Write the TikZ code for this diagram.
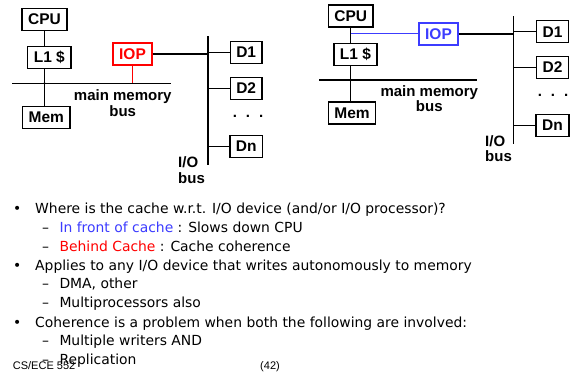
\documentclass[tikz,border=0pt]{standalone}
\usepackage{fontspec}
\setmainfont{Liberation Sans}
\newfontfamily\bodyfont{DejaVu Sans}
\usetikzlibrary{positioning,calc}
\definecolor{iopred}{HTML}{FF0000}
\definecolor{iopblue}{HTML}{3C3CFF}
\tikzset{
  unit/.style={draw,line width=1.4pt,inner xsep=6pt,inner ysep=0pt,minimum height=22pt,
    font=\fontsize{15.5}{15.5}\selectfont\bfseries},
  wire/.style={line width=1.4pt},
  buslabel/.style={align=center,inner sep=0pt,font=\fontsize{15}{15.5}\selectfont\bfseries},
  item/.style={anchor=base west,inner sep=0pt,font=\bodyfont\fontsize{13.9}{13.9}\selectfont},
  foot/.style={anchor=base west,inner sep=0pt,font=\fontsize{11}{11}\selectfont},
}

\begin{document}
\begin{tikzpicture}[x=1pt,y=-1pt]
\useasboundingbox (0,0) rectangle (573,375);
% left: IOP behind the cache
\node[unit] (cpuA) at (44.5,19.5) {CPU};
\node[unit] (l1A) at (49.3,57.7) {L1 \$};
\node[unit] (memA) at (46.3,117.2) {Mem};
\node[unit,draw=iopred,text=iopred] (iopA) at (132.5,53.8) {IOP};
\coordinate (mbusAl) at (12.3,83.3);
\coordinate (mbusAr) at (171,83.3);
\coordinate (iobusAt) at (208,36);
\coordinate (iobusAb) at (208,165);
\draw[wire] (mbusAl) -- (mbusAr);
\draw[wire] (iobusAt) -- (iobusAb);
\draw[wire] (cpuA.south) -- (cpuA.south |- l1A.north);
\draw[wire] (cpuA.south |- l1A.south) -- (cpuA.south |- memA.north);
\fill (cpuA.south |- mbusAl) circle (1.3pt);
\draw[wire,iopred] (iopA.south) -- (iopA.south |- mbusAl);
\draw[wire] (iopA.east) -- (iopA.east -| iobusAt);
\node[unit] (d1A) at (246.2,52.3) {D1};
\node[unit] (d2A) at (246.2,88.3) {D2};
\node[unit] (dnA) at (246.2,146.2) {Dn};
\foreach \d in {d1A,d2A,dnA}
  {\draw[wire] (\d.west) -- (\d.west -| iobusAt);}
\node[buslabel] (dotsA) at (248,116) {.\hspace{9pt}.\hspace{9pt}.};
\node[buslabel] (mlabA) at (122.7,103.3) {main memory\\bus};
\node[buslabel,align=left,anchor=west] (iolabA) at (178,170) {I/O\\bus};
% right: IOP in front of the cache
\node[unit] (cpuB) at (350.7,15.8) {CPU};
\node[unit] (l1B) at (355.5,54.5) {L1 \$};
\node[unit] (memB) at (352,113) {Mem};
\node[unit,draw=iopblue,text=iopblue] (iopB) at (438.5,33.8) {IOP};
\coordinate (mbusBl) at (319,80);
\coordinate (mbusBr) at (476.7,80);
\coordinate (iobusBt) at (513.3,16);
\coordinate (iobusBb) at (513.3,144.3);
\draw[wire] (mbusBl) -- (mbusBr);
\draw[wire] (iobusBt) -- (iobusBb);
\draw[wire] (cpuB.south) -- (cpuB.south |- l1B.north);
\draw[wire] (cpuB.south |- l1B.south) -- (cpuB.south |- memB.north);
\fill (cpuB.south |- mbusBl) circle (1.3pt);
\draw[wire,iopblue,line width=1.1pt] (cpuB.south |- iopB.west) -- (iopB.west);
\draw[wire] (iopB.east) -- (iopB.east -| iobusBt);
\node[unit] (d1B) at (552.5,31.7) {D1};
\node[unit] (d2B) at (552.5,67.5) {D2};
\node[unit] (dnB) at (552.5,125.5) {Dn};
\foreach \d in {d1B,d2B,dnB}
  {\draw[wire] (\d.west) -- (\d.west -| iobusBt);}
\node[buslabel] (dotsB) at (553,95.5) {.\hspace{9pt}.\hspace{9pt}.};
\node[buslabel] (mlabB) at (429.3,98.8) {main memory\\bus};
\node[buslabel,align=left,anchor=west] (iolabB) at (485,148.8) {I/O\\bus};
% bullet text
\foreach \y in {213.5,270,327}
  {\node[item] at (13,\y) {•};}
\foreach \y in {232.3,251.1,288.8,307.6,345.4,364.2}
  {\node[item] at (42,\y) {–};}
\node[item] (b1) at (35,213.5) {Where is the cache w.r.t. I/O device (and/or I/O processor)?};
\node[item] (s1) at (59.3,232.3) {\textcolor{iopblue}{In front of cache} : Slows down CPU};
\node[item] (s2) at (59.3,251.1) {\textcolor{iopred}{Behind Cache} : Cache coherence};
\node[item] (b2) at (35,270) {Applies to any I/O device that writes autonomously to memory};
\node[item] (s3) at (59.3,288.8) {DMA, other};
\node[item] (s4) at (59.3,307.6) {Multiprocessors also};
\node[item] (b3) at (35,327) {Coherence is a problem when both the following are involved:};
\node[item] (s5) at (59.3,345.4) {Multiple writers AND};
\node[item] (s6) at (59.3,364.2) {Replication};
\node[foot] (course) at (12.7,369.3) {CS/ECE 552};
\node[foot,anchor=base] (page) at (270,369.3) {(42)};
\end{tikzpicture}
\end{document}
